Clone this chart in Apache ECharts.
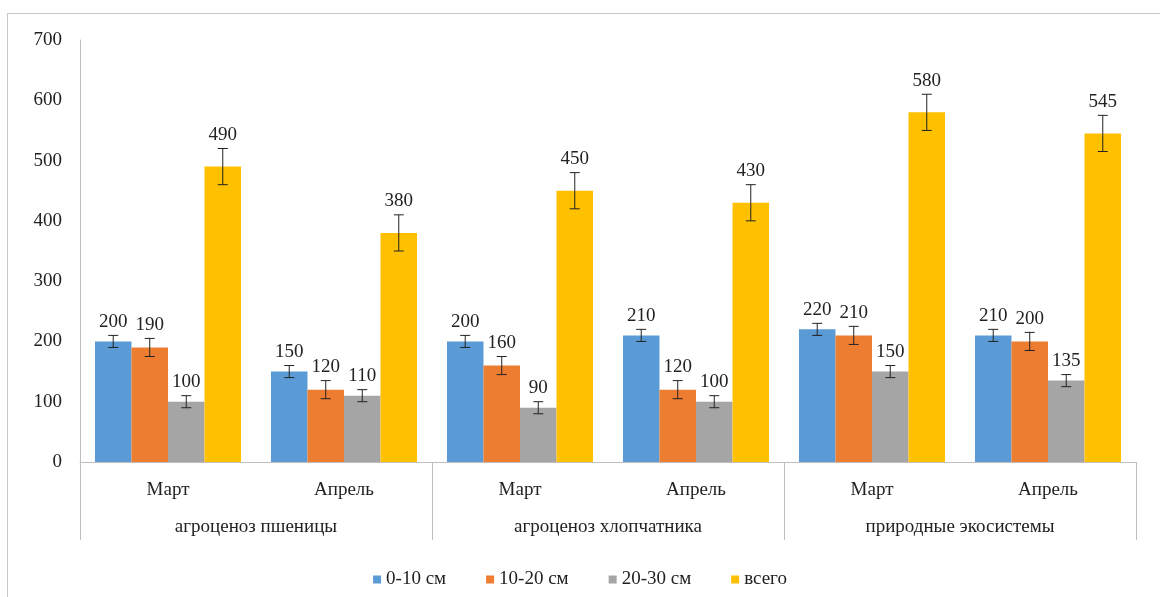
<!DOCTYPE html>
<html>
<head>
<meta charset="utf-8">
<script src="https://cdn.jsdelivr.net/npm/echarts@6/dist/echarts.min.js"></script>
<style>
  html, body { margin: 0; padding: 0; background: #fff; }
  #frame {
    position: absolute; left: 7px; top: 13px; width: 1160px; height: 600px;
    border: 1px solid #c8c8c8; box-sizing: border-box;
  }
  #chart { position: absolute; left: 0; top: 0; width: 1160px; height: 597px; }
</style>
</head>
<body>
<div id="frame"></div>
<div id="chart"></div>
<script>
// категории
const months = ['Март', 'Апрель', 'Март', 'Апрель', 'Март', 'Апрель']
const groups = ['агроценоз пшеницы', 'агроценоз хлопчатника', 'природные экосистемы']
const seriesNames = ['0-10 см', '10-20 см', '20-30 см', 'всего']
const colors = ['#5B9BD5', '#ED7D31', '#A5A5A5', '#FFC000']

// значения
const depth0_10 = [200, 150, 200, 210, 220, 210]
const depth10_20 = [190, 120, 160, 120, 210, 200]
const depth20_30 = [100, 110, 90, 100, 150, 135]
const total = [490, 380, 450, 430, 580, 545]

// погрешности
const err0_10 = [10, 10, 10, 10, 10, 10]
const err10_20 = [15, 15, 15, 15, 15, 15]
const err20_30 = [10, 10, 10, 10, 10, 10]
const errTotal = [30, 30, 30, 30, 30, 30]

const values = [depth0_10, depth10_20, depth20_30, total]
const errors = [err0_10, err10_20, err20_30, errTotal]

const catGap = 0.17
const serif = '"Liberation Serif", "DejaVu Serif", serif'

const errData = []
values.forEach((arr, s) => {
  arr.forEach((v, i) => errData.push([i, s, v, errors[s][i]]))
})

const chart = echarts.init(document.getElementById('chart'))

chart.setOption({
  animation: false,
  color: colors,
  grid: { left: 80, right: 24, top: 40, bottom: 135 },
  legend: {
    data: seriesNames,
    top: 565,
    left: 'center',
    icon: 'rect',
    itemWidth: 8,
    itemHeight: 8,
    itemGap: 40,
    textStyle: { fontFamily: serif, fontSize: 19, color: '#222' }
  },
  xAxis: [
    {
      type: 'category',
      data: months,
      axisLine: { lineStyle: { color: '#bfbfbf' } },
      axisTick: { show: false },
      axisLabel: { margin: 19, fontFamily: serif, fontSize: 19, color: '#222' }
    },
    {
      type: 'category',
      data: groups,
      position: 'bottom',
      offset: 0,
      axisLine: { show: false },
      axisTick: { show: true, length: 78, interval: 0, lineStyle: { color: '#bfbfbf' } },
      axisLabel: { margin: 56, interval: 0, fontFamily: serif, fontSize: 19, color: '#222' }
    }
  ],
  yAxis: {
    type: 'value',
    min: 0,
    max: 700,
    interval: 100,
    axisLine: { show: true, lineStyle: { color: '#bfbfbf' } },
    axisTick: { show: false },
    splitLine: { show: false },
    axisLabel: { margin: 18, fontFamily: serif, fontSize: 19, color: '#222' }
  },
  series: seriesNames.map((name, s) => ({
    name: name,
    type: 'bar',
    xAxisIndex: 0,
    data: values[s],
    barGap: '0%',
    barCategoryGap: (catGap * 100) + '%'
  })).concat([{
    name: 'errors',
    type: 'custom',
    xAxisIndex: 0,
    z: 10,
    data: errData,
    encode: { x: 0, y: 2 },
    renderItem: function (params, api) {
      const cat = api.value(0)
      const s = api.value(1)
      const v = api.value(2)
      const e = api.value(3)
      const band = api.size([1, 0])[0]
      const barW = band * (1 - catGap) / 4
      const center = api.coord([cat, v])
      const x = center[0] - 2 * barW + (s + 0.5) * barW
      const yTop = api.coord([cat, v + e])[1]
      const yBot = api.coord([cat, v - e])[1]
      const cap = 5
      const line = { stroke: '#222', lineWidth: 1 }
      return {
        type: 'group',
        children: [
          { type: 'line', shape: { x1: x, y1: yTop, x2: x, y2: yBot }, style: line },
          { type: 'line', shape: { x1: x - cap, y1: yTop, x2: x + cap, y2: yTop }, style: line },
          { type: 'line', shape: { x1: x - cap, y1: yBot, x2: x + cap, y2: yBot }, style: line },
          {
            type: 'text',
            style: {
              text: String(v),
              x: x,
              y: yTop - 4,
              align: 'center',
              verticalAlign: 'bottom',
              fill: '#222',
              font: '19px ' + serif
            }
          }
        ]
      }
    }
  }])
})
</script>
</body>
</html>
